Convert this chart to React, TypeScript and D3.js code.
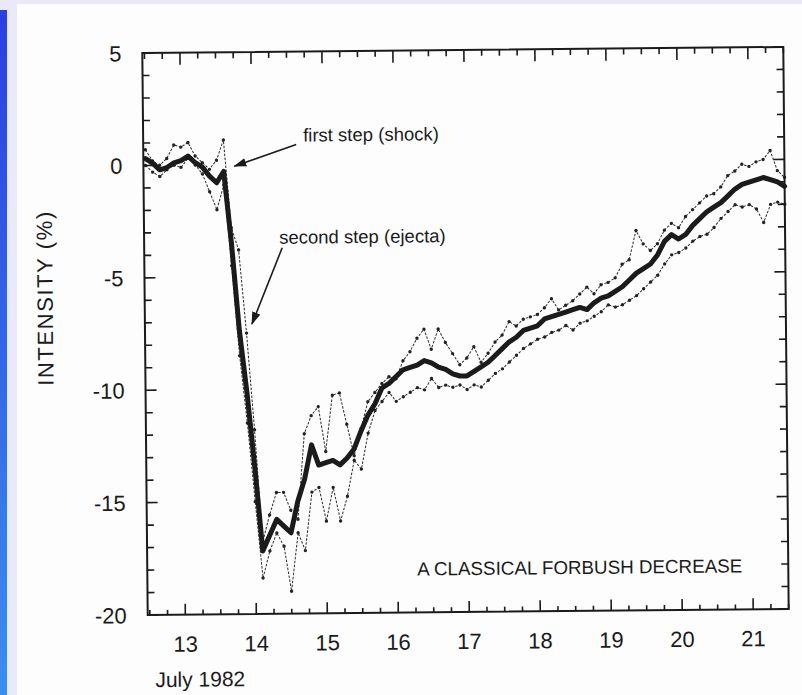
import React from 'react';
import * as d3 from 'd3';

// Time axis (days of July 1982), 0.1-day resolution
const days: number[] = d3.range(0, 91).map((i) => +(12.5 + i * 0.1).toFixed(1));

// Thick curve: mean intensity (%)
const meanIntensity: number[] = [
  0.3, 0.1, -0.2, -0.1, 0.1, 0.2, 0.4, 0.1, -0.1, -0.5,
  -0.8, -0.3, -3.5, -7.4, -10.2, -13.5, -17.2, -16.5, -15.8, -16.1,
  -16.4, -15.0, -14.0, -12.5, -13.4, -13.3, -13.2, -13.4, -13.1, -12.7,
  -11.9, -11.2, -10.7, -10.0, -9.8, -9.5, -9.2, -9.1, -9.0, -8.8,
  -8.9, -9.1, -9.2, -9.4, -9.5, -9.5, -9.3, -9.1, -8.9, -8.6,
  -8.3, -8.0, -7.8, -7.5, -7.4, -7.3, -7.0, -6.9, -6.8, -6.7,
  -6.6, -6.5, -6.6, -6.3, -6.1, -6.0, -5.8, -5.6, -5.3, -5.0,
  -4.8, -4.6, -4.2, -3.6, -3.3, -3.5, -3.3, -2.9, -2.6, -2.3,
  -2.1, -1.9, -1.6, -1.3, -1.1, -1.0, -0.9, -0.8, -0.9, -1.0,
  -1.2,
];

// Thin dotted curve A (upper excursions)
const stationA: number[] = [
  0.7, 0.2, 0.0, 0.3, 0.9, 0.8, 1.0, 0.4, 0.1, -0.2,
  0.2, 1.1, -2.8, -3.8, -7.5, -11.8, -16.8, -15.6, -14.6, -14.6,
  -15.4, -15.8, -12.0, -11.2, -10.8, -12.8, -10.3, -10.2, -11.6, -13.0,
  -11.8, -10.6, -10.2, -9.8, -9.5, -9.6, -8.8, -8.4, -7.8, -7.4,
  -8.3, -7.4, -8.0, -8.5, -9.0, -8.7, -8.2, -8.9, -8.5, -8.0,
  -7.7, -7.1, -7.3, -7.0, -6.9, -6.8, -6.5, -6.1, -6.6, -6.4,
  -6.2, -5.9, -5.6, -5.9, -5.5, -5.4, -5.2, -4.6, -4.4, -3.1,
  -3.7, -4.0, -3.7, -3.1, -2.8, -3.0, -2.5, -2.2, -1.9, -1.6,
  -1.5, -1.2, -0.7, -0.5, -0.2, -0.3, -0.1, 0.0, 0.4, -0.5,
  -0.8,
];

// Thin dotted curve B (lower excursions)
const stationB: number[] = [
  0.0, -0.3, -0.5, -0.2, 0.0, -0.1, 0.3, 0.0, -0.4, -1.2,
  -2.0, -0.9, -4.5, -8.5, -11.5, -15.0, -18.4, -17.2, -16.4, -17.0,
  -19.0, -16.4, -17.2, -14.6, -14.4, -15.9, -14.4, -15.9, -14.8, -13.2,
  -13.6, -12.0, -11.0, -10.6, -10.2, -10.6, -10.4, -10.2, -10.0, -10.1,
  -9.6, -10.0, -9.9, -10.0, -9.9, -10.1, -9.9, -10.0, -9.7, -9.4,
  -9.2, -8.9, -8.6, -8.3, -8.1, -7.9, -7.8, -7.6, -7.5, -7.3,
  -7.5, -7.2, -7.1, -6.9, -6.7, -6.4, -6.5, -6.4, -6.2, -6.0,
  -5.7, -5.4, -5.1, -4.6, -4.2, -4.1, -3.9, -3.6, -3.4, -3.3,
  -3.0, -2.6, -2.3, -2.0, -2.1, -2.0, -2.2, -2.8, -2.0, -1.9,
  -2.0,
];

const xTickLabels: number[] = [13, 14, 15, 16, 17, 18, 19, 20, 21];
const yTickLabels: number[] = [5, 0, -5, -10, -15, -20];

const FONT = "'Liberation Sans', Arial, Helvetica, sans-serif";
const INK = '#1b1b1b';

export default function App() {
  const W = 802;
  const H = 695;
  const plot = { left: 145, right: 786, top: 50, bottom: 612 };

  const x = d3.scaleLinear().domain([12.47, 21.5]).range([plot.left, plot.right]);
  const y = d3.scaleLinear().domain([-20, 5]).range([plot.bottom, plot.top]);

  const line = d3
    .line<number>()
    .x((_, i) => x(days[i]))
    .y((v) => y(v))
    .curve(d3.curveLinear);

  const xMinor = d3.range(12.5, 21.51, 0.25);
  const yMinor = d3.range(-20, 5.01, 1);

  const isInt = (v: number) => Math.abs(v - Math.round(v)) < 1e-6;

  return (
    <svg
      width={W}
      height={H}
      style={{ position: 'absolute', left: 0, top: 0, display: 'block' }}
      xmlns="http://www.w3.org/2000/svg"
    >
      <defs>
        <linearGradient id="bluebar" x1="0" y1="0" x2="0" y2="1">
          <stop offset="0" stopColor="#2c3fe0" />
          <stop offset="1" stopColor="#3a8fee" />
        </linearGradient>
        <marker id="arrowhead" viewBox="0 0 12 8" refX="11" refY="4" markerWidth="13" markerHeight="9" markerUnits="userSpaceOnUse" orient="auto">
          <path d="M0,0 L12,4 L0,8 Z" fill={INK} />
        </marker>
      </defs>

      {/* page background */}
      <rect x={0} y={0} width={W} height={H} fill="#e9e9f8" />
      <rect x={17} y={4} width={W - 17} height={H - 4} fill="#fdfdfd" />
      <rect x={0} y={10} width={7} height={H - 10} fill="url(#bluebar)" />

      <g transform="rotate(-0.55, 465, 331)" fontFamily={FONT} fill={INK}>
        {/* data */}
        <path d={line(stationB) || ''} fill="none" stroke="#2a2a2a" strokeWidth={1} strokeDasharray="2.5,1.5" />
        {stationB.map((v, i) => (
          <circle key={'b' + i} cx={x(days[i])} cy={y(v)} r={1.7} fill="#222" />
        ))}
        <path d={line(stationA) || ''} fill="none" stroke="#2a2a2a" strokeWidth={1} strokeDasharray="2.5,1.5" />
        {stationA.map((v, i) => (
          <circle key={'a' + i} cx={x(days[i])} cy={y(v)} r={1.7} fill="#222" />
        ))}
        <path d={line(meanIntensity) || ''} fill="none" stroke={INK} strokeWidth={5} strokeLinejoin="round" strokeLinecap="round" />

        {/* frame */}
        <rect x={plot.left} y={plot.top} width={plot.right - plot.left} height={plot.bottom - plot.top} fill="none" stroke={INK} strokeWidth={2} />

        {/* x ticks, bottom and top */}
        {xMinor.map((d, i) => {
          const major = isInt(d);
          const xx = x(d);
          return (
            <g key={'xt' + i} stroke={INK} strokeWidth={1.6}>
              <line x1={xx} x2={xx} y1={plot.bottom} y2={plot.bottom - (major ? 11 : 5)} />
              <line x1={xx} x2={xx} y1={plot.top} y2={plot.top + (major ? 12 : 6)} />
            </g>
          );
        })}
        {/* y ticks, left and right */}
        {yMinor.map((v, i) => {
          const major = Math.round(v) % 5 === 0;
          const yy = y(v);
          return (
            <g key={'yt' + i} stroke={INK} strokeWidth={1.6}>
              <line x1={plot.left} x2={plot.left + (major ? 11 : 7)} y1={yy} y2={yy} />
              <line x1={plot.right} x2={plot.right - (major ? 11 : 7)} y1={yy} y2={yy} />
            </g>
          );
        })}

        {/* tick labels */}
        {xTickLabels.map((d) => (
          <text key={'xl' + d} x={x(d)} y={649} fontSize={22} textAnchor="middle">
            {d}
          </text>
        ))}
        {yTickLabels.map((v) => (
          <text key={'yl' + v} x={124} y={y(v) + 8} fontSize={22} textAnchor="end">
            {v}
          </text>
        ))}

        {/* axis titles */}
        <text x={152} y={684} fontSize={21}>July 1982</text>
        <text transform="translate(53, 294) rotate(-90)" fontSize={22} letterSpacing={1.6} textAnchor="middle">
          INTENSITY (%)
        </text>

        {/* annotations */}
        <text x={305} y={140} fontSize={18.5}>first step (shock)</text>
        <line x1={298} y1={143} x2={236} y2={164} stroke={INK} strokeWidth={1.6} markerEnd="url(#arrowhead)" />
        <text x={280} y={242} fontSize={18.5}>second step (ejecta)</text>
        <line x1={283} y1={246} x2={252} y2={322} stroke={INK} strokeWidth={1.6} markerEnd="url(#arrowhead)" />
        <text x={415} y={575} fontSize={18.8}>A CLASSICAL FORBUSH DECREASE</text>
      </g>
    </svg>
  );
}
